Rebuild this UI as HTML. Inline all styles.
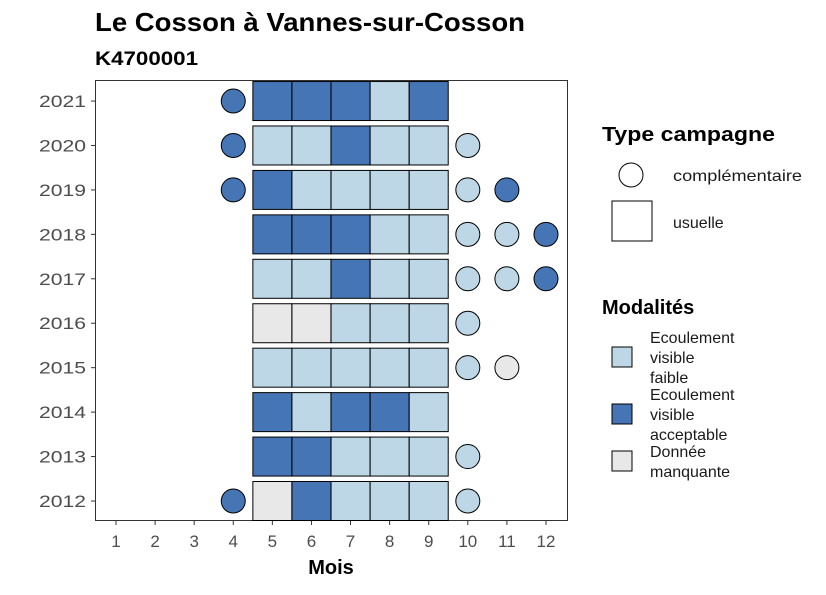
<!DOCTYPE html>
<html><head><meta charset="utf-8"><style>
body{margin:0;background:#fff;font-family:"Liberation Sans",sans-serif}
</style></head><body>
<svg width="826" height="590" xmlns="http://www.w3.org/2000/svg" font-family="Liberation Sans, sans-serif">
<text x="95" y="31" font-size="26" font-weight="bold" fill="#000" textLength="430" lengthAdjust="spacingAndGlyphs">Le Cosson à Vannes-sur-Cosson</text>
<text x="95" y="65" font-size="19" font-weight="bold" fill="#000" textLength="103" lengthAdjust="spacingAndGlyphs">K4700001</text>
<rect x="95.5" y="80.5" width="472" height="440" fill="#fff" stroke="#333" stroke-width="1"/>
<g id="marks"></g>
<g id="axes"></g>
<text x="331" y="574" font-size="20" font-weight="bold" text-anchor="middle">Mois</text>
<text x="602" y="141" font-size="20" font-weight="bold" textLength="173" lengthAdjust="spacingAndGlyphs">Type campagne</text>
<circle cx="631" cy="175" r="12" fill="#fff" stroke="#000"/>
<text x="673" y="181" font-size="16" fill="#1a1a1a" textLength="129" lengthAdjust="spacingAndGlyphs">complémentaire</text>
<rect x="612" y="201" width="40" height="40" fill="#fff" stroke="#000"/>
<text x="673" y="228" font-size="16" fill="#1a1a1a">usuelle</text>
<text x="602" y="314" font-size="20" font-weight="bold">Modalités</text>
<rect x="612" y="347" width="20" height="20" fill="#BDD7E7" stroke="#000"/>
<text font-size="16" fill="#1a1a1a"><tspan x="650" y="343">Ecoulement</tspan><tspan x="650" y="363">visible</tspan><tspan x="650" y="383">faible</tspan></text>
<rect x="612" y="404" width="20" height="20" fill="#4575B4" stroke="#000"/>
<text font-size="16" fill="#1a1a1a"><tspan x="650" y="400">Ecoulement</tspan><tspan x="650" y="420">visible</tspan><tspan x="650" y="440">acceptable</tspan></text>
<rect x="612" y="451" width="20" height="20" fill="#E8E8E8" stroke="#000"/>
<text font-size="16" fill="#1a1a1a"><tspan x="650" y="457">Donnée</tspan><tspan x="650" y="477">manquante</tspan></text>
</svg>
<script>
const months=[1,2,3,4,5,6,7,8,9,10,11,12];
const years=[2012,2013,2014,2015,2016,2017,2018,2019,2020,2021];
const tileYears=[2021,2021,2021,2021,2021,2020,2020,2020,2020,2020,2019,2019,2019,2019,2019,2018,2018,2018,2018,2018,2017,2017,2017,2017,2017,2016,2016,2016,2016,2016,2015,2015,2015,2015,2015,2014,2014,2014,2014,2014,2013,2013,2013,2013,2013,2012,2012,2012,2012,2012];
const tileMonths=[5,6,7,8,9,5,6,7,8,9,5,6,7,8,9,5,6,7,8,9,5,6,7,8,9,5,6,7,8,9,5,6,7,8,9,5,6,7,8,9,5,6,7,8,9,5,6,7,8,9];
const tileMods=["D","D","D","L","D","L","L","D","L","L","D","L","L","L","L","D","D","D","L","L","L","L","D","L","L","G","G","L","L","L","L","L","L","L","L","D","L","D","D","L","D","D","L","L","L","G","D","L","L","L"];
const circYears=[2021,2020,2020,2019,2019,2019,2018,2018,2018,2017,2017,2017,2016,2015,2015,2013,2012,2012];
const circMonths=[4,4,10,4,10,11,10,11,12,10,11,12,10,10,11,10,4,10];
const circMods=["D","D","L","D","L","D","L","L","D","L","L","D","L","L","G","L","D","L"];
const colors={L:"#BDD7E7",D:"#4575B4",G:"#E8E8E8"};
const xs=m=>116+(m-1)*39.09;
const ys=y=>501-(y-2012)*44.44;
const NS="http://www.w3.org/2000/svg";
const g=document.getElementById('marks'),ax=document.getElementById('axes');
function mk(t,a,p){const e=document.createElementNS(NS,t);for(const k in a)e.setAttribute(k,a[k]);p.appendChild(e);return e;}
tileYears.forEach((y,i)=>{
 const e=mk('rect',{x:xs(tileMonths[i])-19.5,y:ys(y)-19.5,width:39,height:39,fill:colors[tileMods[i]],stroke:'#000','stroke-width':1},g);
 
 
});
circYears.forEach((y,i)=>{
 const e=mk('circle',{cx:xs(circMonths[i]),cy:ys(y),r:12,fill:colors[circMods[i]],stroke:'#000','stroke-width':1},g);
 
 
});
months.forEach(m=>{
 mk('line',{x1:xs(m),x2:xs(m),y1:521,y2:525,stroke:'#333'},ax);
 const t=mk('text',{x:xs(m),y:547,'font-size':17,'text-anchor':'middle',fill:'#4d4d4d'},ax);
 t.textContent=m;
 
 
});
years.forEach(y=>{
 mk('line',{x1:91,x2:95,y1:ys(y),y2:ys(y),stroke:'#333'},ax);
 const t=mk('text',{x:86,y:ys(y)+6,'font-size':17,'text-anchor':'end',fill:'#4d4d4d',textLength:47,lengthAdjust:'spacingAndGlyphs'},ax);
 t.textContent=y;
 
 
});
</script>
</body></html>
